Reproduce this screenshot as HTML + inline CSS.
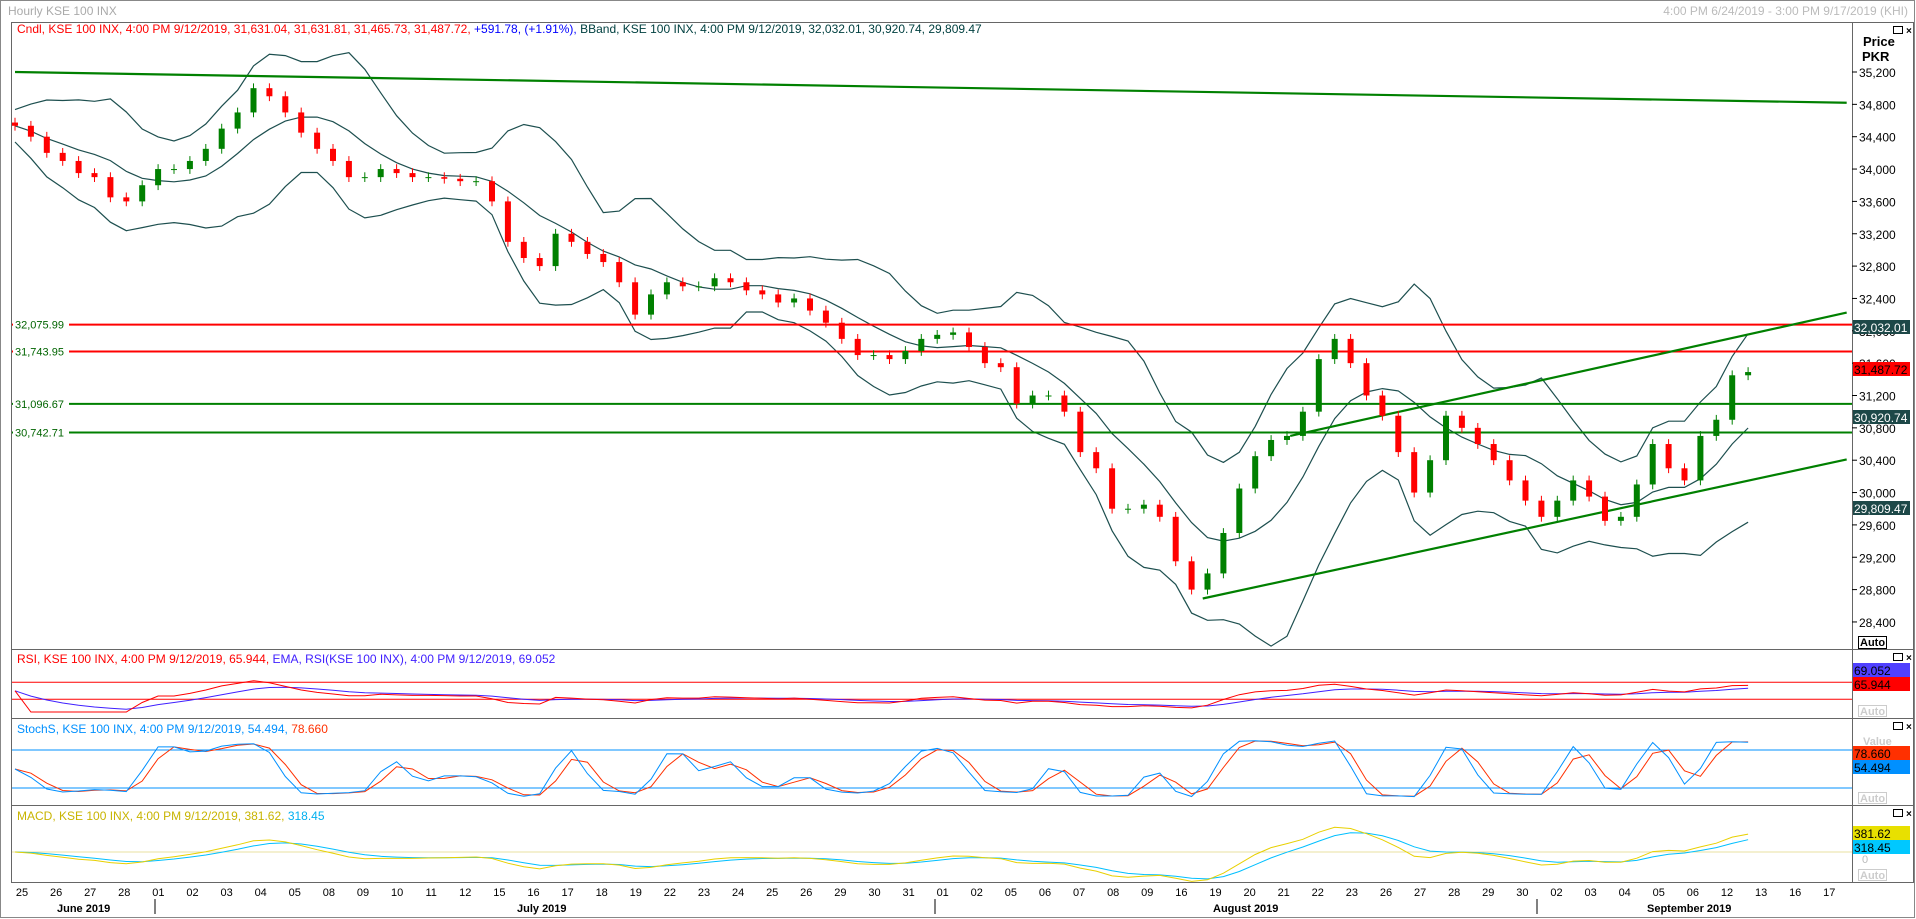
<!DOCTYPE html>
<html><head><meta charset="utf-8"><style>
html,body{margin:0;padding:0;background:#fff;width:1916px;height:919px;overflow:hidden}
svg{display:block;font-family:"Liberation Sans",Tahoma,sans-serif}
</style></head><body>
<svg id="c" width="1916" height="919" xmlns="http://www.w3.org/2000/svg"></svg>
<script>
// ---- data ----
const closes=[34535,34400,34200,34100,33950,33900,33650,33600,33800,34000,34000,34100,34250,34500,34700,35000,34900,34700,34450,34250,34100,33900,33900,34000,33950,33900,33900,33880,33850,33850,33600,33100,32900,32800,33200,33100,32950,32850,32600,32200,32450,32600,32550,32550,32650,32600,32500,32450,32350,32400,32250,32100,31900,31700,31700,31650,31750,31900,31950,31980,31800,31600,31550,31100,31200,31200,31000,30500,30300,29800,29800,29850,29700,29150,28800,29000,29500,30050,30450,30650,30700,31000,31650,31900,31600,31200,30950,30500,30000,30400,30950,30800,30600,30400,30150,29900,29700,29900,30150,29950,29650,29700,30100,30600,30300,30150,30700,30900,31450,31490];
const dayLabels=["25","26","27","28","01","02","03","04","05","08","09","10","11","12","15","16","17","18","19","22","23","24","25","26","29","30","31","01","02","05","06","07","08","09","16","19","20","21","22","23","26","27","28","29","30","02","03","04","05","06","12","13","16","17"];
const priceTicks=[35200,34800,34400,34000,33600,33200,32800,32400,32000,31600,31200,30800,30400,30000,29600,29200,28800,28400];
const hLevels=[32075.99,31743.95,31096.67,30742.71];
const hColors=["#ff0000","#ff0000","#008000","#008000"];
const trendTop=[[0,35200],[115.2,34820]];
const trendLow=[[74.7,28690],[115.2,30410]];
const trendMid=[[80.2,30700],[115.2,32225]];
const months=[["June 2019",57],["July 2019",517],["August 2019",1213],["September 2019",1647]];
const monthSeps=[155,935,1537];

const svg=document.getElementById('c');
const NS='http://www.w3.org/2000/svg';
function E(t,a,txt){const e=document.createElementNS(NS,t);for(const k in a)e.setAttribute(k,a[k]);if(txt!==undefined)e.textContent=txt;svg.appendChild(e);return e;}
const X=i=>15+i*15.9;
const Y=p=>72+(35200-p)/400*32.35;
const AX=1852;

let e;
e=E('rect',{x:0.5,y:0.5,width:1914,height:917,fill:'#fff',stroke:'#888'});
e=E('text',{x:8,y:15,fill:'#aaa','font-size':12},'Hourly KSE 100 INX');
e=E('text',{x:1908,y:15,fill:'#bbb','font-size':12,'text-anchor':'end'},'4:00 PM 6/24/2019 - 3:00 PM 9/17/2019 (KHI)');
e=E('rect',{x:11.5,y:22.5,width:1902,height:860,fill:'none',stroke:'#666'});
E('line',{x1:AX+.5,y1:22,x2:AX+.5,y2:882,stroke:'#666'});
[649,718,805].forEach(y=>E('line',{x1:11,y1:y+.5,x2:1914,y2:y+.5,stroke:'#666'}));

e=E('text',{x:17,y:33,'font-size':12});
e.innerHTML='<tspan fill="#f00">Cndl, KSE 100 INX, 4:00 PM 9/12/2019, 31,631.04, 31,631.81, 31,465.73, 31,487.72, </tspan><tspan fill="#00f">+591.78, (+1.91%), </tspan><tspan fill="#004040">BBand, KSE 100 INX, 4:00 PM 9/12/2019, 32,032.01, 30,920.74, 29,809.47</tspan>';

e=E('text',{x:1863,y:46,'font-size':13,'font-weight':'bold'},'Price');
E('text',{x:1862,y:61,'font-size':13,'font-weight':'bold'},'PKR');
priceTicks.forEach(p=>{const y=Y(p);E('line',{x1:AX,y1:y,x2:AX+5,y2:y,stroke:'#000'});
 e=E('text',{x:AX+7,y:y+5,'font-size':12},p.toLocaleString('en-US'));});
e=E('rect',{x:1858.5,y:636.5,width:28,height:12,fill:'#fff',stroke:'#000'});
E('text',{x:1860,y:646,'font-size':11,'font-weight':'bold'},'Auto');
[26,653,722,809].forEach(y=>{E('rect',{x:1893.5,y:y+.5,width:9,height:7,fill:'none',stroke:'#000'});E('text',{x:1906,y:y+8,'font-size':10,'font-weight':'bold'},'×');});

const defs=E('defs',{});
const cp=document.createElementNS(NS,'clipPath');cp.setAttribute('id','mc');const cr=document.createElementNS(NS,'rect');
cr.setAttribute('x',12);cr.setAttribute('y',23);cr.setAttribute('width',AX-12);cr.setAttribute('height',626);cp.appendChild(cr);defs.appendChild(cp);
const g=E('g',{'clip-path':'url(#mc)'});
function G(t,a){const el=document.createElementNS(NS,t);for(const k in a)el.setAttribute(k,a[k]);g.appendChild(el);return el;}

// bollinger
const N=7;const mid=[],up=[],lo=[];
closes.forEach((c,i)=>{const s=closes.slice(Math.max(0,i-N+1),i+1);const m=s.reduce((a,b)=>a+b,0)/s.length;
 const sd=Math.sqrt(s.reduce((a,b)=>a+(b-m)*(b-m),0)/s.length);mid.push(m);up.push(m+2*sd+200);lo.push(m-2*sd-200);});
function path(arr,fy){return arr.map((v,i)=>(i?'L':'M')+X(i).toFixed(1)+' '+fy(v).toFixed(1)).join(' ');}
[['bband-upper',up],['bband-middle',mid],['bband-lower',lo]].forEach(([n,a])=>{const p=G('path',{d:path(a,Y),fill:'none',stroke:'#1d4f4f','stroke-width':1.2});
 });

// horizontal levels
hLevels.forEach((v,k)=>{const y=Y(v);const l=G('line',{x1:12,y1:y,x2:AX,y2:y,stroke:hColors[k],'stroke-width':2});
 
 E('rect',{x:13,y:y-7,width:56,height:14,fill:'#fff'});
 const t=E('text',{x:15,y:y+4,'font-size':11,fill:'#006400'},v.toLocaleString('en-US',{minimumFractionDigits:2}));
 });

// trendlines
[['trendline-top',trendTop],['trendline-lower',trendLow],['trendline-middle',trendMid]].forEach(([n,t])=>{
 const l=G('line',{x1:X(t[0][0]),y1:Y(t[0][1]),x2:X(t[1][0]),y2:Y(t[1][1]),stroke:'#008000','stroke-width':2.2});
 });

// candles
closes.forEach((c,i)=>{const o=i?closes[i-1]:c+40;const hi=Math.max(o,c)+60,lw=Math.min(o,c)-60;const col=c>=o?'#008000':'#ff0000';
 const x=X(i);const w=G('line',{x1:x,y1:Y(hi),x2:x,y2:Y(lw),stroke:col,'stroke-width':1});
 
 const b=G('rect',{x:x-3,y:Y(Math.max(o,c)),width:6,height:Math.max(1,Math.abs(Y(o)-Y(c))),fill:col});
 });

function vbox(y,txt,bg,fg,name){const r=E('rect',{x:1853,y:y-7,width:57,height:14,fill:bg});
 E('text',{x:1854,y:y+5,'font-size':12,fill:fg},txt);}
vbox(327,'32,032.01','#1d4848','#fff','bband-upper-value');
vbox(369,'31,487.72','#ff0000','#000','last-price-value');
vbox(417,'30,920.74','#1d4848','#fff','bband-middle-value');
vbox(508,'29,809.47','#1d4848','#fff','bband-lower-value');

// RSI
const RP=14;const rsi=[];let ag=0,al=0;
closes.forEach((c,i)=>{if(i===0){rsi.push(50);return;}const d=c-closes[i-1];ag=(ag*(RP-1)+Math.max(d,0))/RP;al=(al*(RP-1)+Math.max(-d,0))/RP;rsi.push(al===0?60:100-100/(1+ag/al));});
const rsiE=[];rsi.forEach((v,i)=>rsiE.push(i?rsiE[i-1]+(v-rsiE[i-1])*2/8:v));
const RY=v=>712-v*0.425;
e=E('text',{x:17,y:663,'font-size':12});
e.innerHTML='<tspan fill="#f00">RSI, KSE 100 INX, 4:00 PM 9/12/2019, 65.944, </tspan><tspan fill="#4020ff">EMA, RSI(KSE 100 INX), 4:00 PM 9/12/2019, 69.052</tspan>';
[70,30].forEach(v=>E('line',{x1:12,y1:RY(v),x2:AX,y2:RY(v),stroke:'#f00','stroke-width':1}));
e=E('path',{d:path(rsiE,RY),fill:'none',stroke:'#4020ff'});
e=E('path',{d:path(rsi,RY),fill:'none',stroke:'#f00'});
vbox(670,'69.052','#5040ff','#000','rsi-ema-value');vbox(684,'65.944','#ff0000','#000','rsi-value');
E('rect',{x:1858.5,y:705.5,width:28,height:11,fill:'#fff',stroke:'#ccc'});E('text',{x:1860,y:715,'font-size':11,'font-weight':'bold',fill:'#ccc'},'Auto');

// Stochastic
const KP=3;const rawK=closes.map((c,i)=>{const s=closes.slice(Math.max(0,i-KP+1),i+1);const h=Math.max(...s)+60,l=Math.min(...s)-60;return (c-l)/(h-l)*100;});
const kS=rawK.map((v,i)=>i?(v+rawK[i-1])/2:v);const dS=kS.map((v,i)=>{const s=kS.slice(Math.max(0,i-1),i+1);return s.reduce((a,b)=>a+b,0)/s.length;});
const SY=v=>750+(80-v)*38/60;
e=E('text',{x:17,y:733,'font-size':12});
e.innerHTML='<tspan fill="#0090ff">StochS, KSE 100 INX, 4:00 PM 9/12/2019, 54.494, </tspan><tspan fill="#ff3000">78.660</tspan>';
[80,20].forEach(v=>E('line',{x1:12,y1:SY(v),x2:AX,y2:SY(v),stroke:'#0090ff'}));
e=E('path',{d:path(dS,SY),fill:'none',stroke:'#ff3000'});
e=E('path',{d:path(kS,SY),fill:'none',stroke:'#0090ff'});
E('text',{x:1863,y:745,'font-size':11,'font-weight':'bold',fill:'#ccc'},'Value');
vbox(753,'78.660','#ff3000','#000','stoch-d-value');vbox(767,'54.494','#0090ff','#000','stoch-k-value');
E('rect',{x:1858.5,y:792.5,width:28,height:11,fill:'#fff',stroke:'#ccc'});E('text',{x:1860,y:802,'font-size':11,'font-weight':'bold',fill:'#ccc'},'Auto');

// MACD
function ema(a,n){const r=[];a.forEach((v,i)=>r.push(i?r[i-1]+(v-r[i-1])*2/(n+1):v));return r;}
const e1=ema(closes,5),e2=ema(closes,11);const macd=e1.map((v,i)=>v-e2[i]);const sig=ema(macd,4);
const MY=v=>852-v*0.05;
e=E('text',{x:17,y:820,'font-size':12});
e.innerHTML='<tspan fill="#c8b400">MACD, KSE 100 INX, 4:00 PM 9/12/2019, 381.62, </tspan><tspan fill="#00b0f0">318.45</tspan>';
E('line',{x1:12,y1:MY(0),x2:AX,y2:MY(0),stroke:'#e8e0a0'});
e=E('path',{d:path(sig,MY),fill:'none',stroke:'#00bfff'});
e=E('path',{d:path(macd,MY),fill:'none',stroke:'#e8d000'});
vbox(833,'381.62','#e8e000','#000','macd-value');vbox(847,'318.45','#00c8ff','#000','macd-signal-value');
E('text',{x:1862,y:863,'font-size':11,fill:'#bbb'},'0');
E('rect',{x:1858.5,y:869.5,width:28,height:11,fill:'#fff',stroke:'#ccc'});E('text',{x:1860,y:879,'font-size':11,'font-weight':'bold',fill:'#ccc'},'Auto');

// x axis
dayLabels.forEach((d,k)=>{const x=22+k*34.1;e=E('text',{x:x,y:896,'font-size':11,'text-anchor':'middle'},d);});
monthSeps.forEach(x=>E('line',{x1:x,y1:899,x2:x,y2:914,stroke:'#000'}));
months.forEach(([m,x])=>{e=E('text',{x:x,y:912,'font-size':11,'font-weight':'bold'},m);});
</script>
</body></html>
